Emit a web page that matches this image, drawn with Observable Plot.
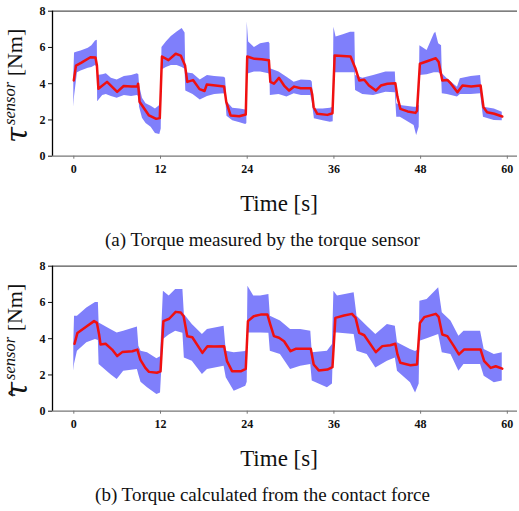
<!DOCTYPE html>
<html><head><meta charset="utf-8">
<script src="https://cdn.jsdelivr.net/npm/d3@7"></script>
<script src="https://cdn.jsdelivr.net/npm/@observablehq/plot@0.6"></script>
<style>
body{margin:0;background:#fff;}
#root{width:519px;}
.cap{font-family:"Liberation Serif","Times New Roman",serif;font-size:19px;text-align:center;height:35px;line-height:40px;color:#111;padding-left:6px;}
</style></head><body><div id="root"></div><script>
const xTicks=[0,12,24,36,48,60];
const yTicks=[0,2,4,6,8];
const captions=["(a) Torque measured by the torque sensor","(b) Torque calculated from the contact force"];
const xLabel="Time [s]";
// panel (a): mean line [t, value]
const aLine=[[0,4.18],[0.3,5.0],[1,5.15],[2.3,5.46],[3.0,5.45],[3.2,5.0],[3.4,3.72],[4.6,4.1],[6.0,3.55],[6.9,3.87],[8.0,3.85],[8.8,3.85],[8.9,4.0],[9.1,3.0],[10.4,2.25],[11.4,2.06],[11.9,2.1],[12.2,5.5],[13.1,5.3],[14.1,5.65],[14.8,5.55],[15.4,5.0],[15.7,4.1],[16.5,4.2],[17.4,3.7],[18.1,3.6],[18.4,3.95],[20.8,3.85],[21.1,3.0],[21.7,2.25],[22.9,2.2],[23.8,2.3],[24.0,5.5],[25,5.37],[26,5.35],[27,5.3],[27.2,4.1],[27.7,4.0],[28.4,4.32],[29.1,3.9],[29.8,3.62],[30.5,3.84],[31.4,3.75],[32.8,3.75],[33.0,3.4],[33.2,2.7],[33.7,2.34],[35.1,2.28],[35.8,2.37],[36.1,5.56],[38.3,5.5],[39.0,4.82],[39.5,4.18],[40.2,4.22],[40.85,3.9],[41.8,3.62],[42.5,3.9],[43.4,4.0],[44.5,4.03],[44.8,3.26],[45.2,2.61],[46.2,2.47],[47.3,2.39],[47.5,2.5],[47.9,5.1],[48.9,5.24],[50.1,5.41],[50.5,5.2],[51.0,4.18],[51.7,4.21],[52.2,4.0],[53.1,3.53],[53.8,3.9],[55.0,3.84],[56.3,3.9],[56.7,2.7],[57.2,2.43],[58.2,2.34],[59.3,2.19]];
// panel (a): spread band [t, low, high]
const aBand=[[0.0,2.7,4.4],[0.1,3.3,5.7],[0.5,4.6,5.75],[1.0,4.7,5.8],[2.0,4.85,5.95],[2.5,4.9,6.1],[3.0,5.0,6.35],[3.25,4.9,6.4],[3.3,3.0,4.45],[4.0,3.35,4.5],[4.5,3.4,4.55],[5.2,3.3,4.3],[6.0,3.2,4.2],[7.0,3.35,4.4],[8.0,3.3,4.45],[8.8,3.35,4.55],[9.0,3.3,4.5],[9.1,2.7,3.9],[9.5,2.1,3.2],[10.0,1.8,2.9],[10.7,1.6,2.75],[11.3,1.25,2.6],[11.9,1.2,2.8],[12.1,1.5,3.0],[12.2,4.75,6.0],[12.8,4.9,6.3],[13.5,5.0,6.6],[14.3,5.0,6.85],[15.0,4.9,7.05],[15.4,4.8,6.8],[15.5,3.6,4.6],[16.5,3.4,4.55],[17.5,3.1,4.2],[18.5,3.3,4.45],[19.5,3.4,4.4],[20.8,3.45,4.35],[21.0,3.3,4.3],[21.2,2.2,3.0],[22.0,1.95,2.65],[23.0,1.85,2.6],[23.8,1.75,2.55],[23.95,1.8,2.6],[24.0,4.5,7.4],[24.2,4.55,6.3],[25.0,4.64,6.0],[25.85,4.64,6.2],[27.0,4.55,6.29],[27.15,4.5,6.2],[27.2,3.35,4.82],[28.4,3.4,4.64],[29.5,3.26,4.36],[30.5,3.44,4.08],[31.5,3.35,4.2],[32.8,3.35,4.18],[33.0,3.0,4.1],[33.3,2.06,2.61],[34.5,1.95,2.6],[35.5,1.88,2.65],[35.9,1.9,2.7],[36.0,4.6,7.12],[36.3,4.6,6.57],[37.3,4.6,6.7],[38.3,4.6,6.84],[38.9,4.6,6.84],[39.0,3.62,4.45],[40.0,3.4,4.3],[41.5,3.35,4.45],[43.2,3.53,4.64],[44.5,3.5,4.64],[44.7,2.15,2.89],[45.2,2.15,2.8],[47.1,1.7,2.7],[47.45,1.14,2.7],[47.8,1.6,2.8],[47.9,4.45,6.1],[48.9,4.5,5.83],[49.9,4.6,6.75],[50.1,4.6,6.84],[50.5,4.6,6.2],[50.9,4.5,6.1],[51.0,3.44,4.55],[51.7,3.4,4.27],[53.1,3.26,3.81],[53.5,3.4,4.27],[55.0,3.4,4.4],[56.3,3.44,4.45],[56.7,2.15,2.7],[58.2,1.97,2.61],[59.3,1.95,2.43]];
// panel (b): mean line [t, value]
const bLine=[[0.1,3.72],[0.5,4.32],[1.8,4.69],[2.8,4.97],[3.2,4.87],[3.5,4.23],[3.7,3.68],[4.4,3.72],[5.3,3.4],[6.0,3.04],[6.7,3.26],[8.1,3.31],[8.8,3.4],[9.2,2.85],[9.9,2.39],[10.4,2.17],[11.5,2.12],[12.0,2.2],[12.4,4.97],[13.2,5.1],[14.1,5.48],[14.8,5.45],[15.2,5.24],[15.7,4.14],[16.4,4.08],[17.8,3.22],[18.5,3.59],[19.4,3.57],[20.8,3.59],[21.2,2.76],[21.9,2.21],[23.1,2.2],[23.8,2.34],[24.1,4.97],[24.9,5.24],[25.85,5.33],[26.8,5.33],[27.2,4.78],[27.7,4.14],[28.4,4.05],[29.1,3.86],[30.0,3.31],[30.7,3.44],[32.8,3.44],[33.2,2.58],[33.9,2.25],[35.1,2.3],[35.8,2.43],[36.2,5.15],[37.4,5.28],[38.5,5.37],[39.0,5.15],[39.5,4.32],[40.2,4.19],[41.8,3.26],[42.7,3.59],[43.8,3.64],[44.5,3.72],[44.8,3.13],[45.2,2.67],[46.6,2.54],[47.5,2.58],[47.9,4.87],[48.5,5.19],[50.1,5.37],[50.5,5.2],[51.0,4.23],[51.7,4.14],[52.6,3.59],[53.3,3.13],[54.0,3.4],[56.3,3.4],[56.8,2.76],[57.7,2.39],[58.4,2.48],[59.3,2.35]];
// panel (b): spread band [t, low, high]
const bBand=[[0.0,2.2,3.8],[0.1,2.6,5.24],[0.5,3.31,5.24],[1.8,3.77,5.7],[3.0,3.96,6.0],[3.4,3.9,6.0],[3.5,2.58,4.87],[5.1,2.02,4.51],[6.0,1.75,4.32],[6.9,2.21,4.41],[8.8,2.3,4.64],[9.0,2.0,3.59],[9.3,1.6,3.31],[10.2,1.29,3.22],[11.5,0.92,2.9],[12.0,1.0,3.0],[12.4,3.96,6.62],[13.2,4.2,6.35],[14.1,4.41,6.71],[15.1,4.3,6.71],[15.3,2.94,5.33],[16.4,2.76,4.78],[17.8,2.02,4.23],[18.5,2.3,4.51],[20.8,2.48,4.69],[21.1,1.84,3.31],[22.2,1.1,3.22],[23.8,1.38,3.3],[24.0,1.6,3.4],[24.1,4.32,6.9],[24.9,4.32,6.35],[25.85,4.32,6.35],[27.0,4.3,6.44],[27.2,3.31,5.24],[28.6,3.13,4.97],[30.0,2.3,4.51],[31.4,2.48,4.51],[32.8,2.58,4.41],[33.0,1.66,3.22],[35.1,1.29,3.31],[35.8,1.5,3.68],[36.0,4.32,6.62],[36.5,4.32,6.35],[38.8,4.23,6.53],[39.2,3.31,5.24],[40.6,3.13,4.69],[41.8,2.39,4.23],[43.4,2.76,4.78],[44.5,2.94,4.69],[44.8,2.21,3.77],[46.6,1.57,3.4],[47.3,1.01,3.3],[47.8,1.5,3.4],[47.9,3.86,6.07],[48.9,4.0,6.16],[50.5,4.23,6.81],[51.0,3.22,5.43],[52.2,3.13,4.97],[53.3,2.21,4.14],[54.0,2.58,4.41],[56.3,2.58,4.41],[56.8,1.93,3.4],[58.2,1.57,3.13],[59.3,1.66,3.22]];

const xDomain=[-2.95,61.41];
const serif="Liberation Serif";
function panel(line,band,hat,caption){
  const svg=Plot.plot({
    width:519,height:220,marginLeft:52,marginRight:2,marginTop:10.7,marginBottom:64.3,
    x:{domain:xDomain},y:{domain:[0,8]},
    style:{fontFamily:serif,fontSize:"12px",fontWeight:"bold",background:"white",color:"#111"},
    marks:[
      Plot.areaY(band,{x:d=>d[0],y1:d=>d[1],y2:d=>d[2],fill:"#7f7ffb",fillOpacity:1}),
      Plot.lineY(line,{x:d=>d[0],y:d=>d[1],stroke:"#f01010",strokeWidth:2.5}),
      Plot.ruleY([8],{stroke:"#555",strokeWidth:1.3}),
      Plot.ruleY([0],{stroke:"#777",strokeWidth:1.3}),
      Plot.ruleX([xDomain[0]],{stroke:"#000",strokeWidth:1.3}),
      Plot.axisX({ticks:xTicks,tickSize:3,tickPadding:5,label:null,stroke:"#777",fontFamily:serif,fontWeight:"bold",fontSize:12}),
      Plot.axisY({ticks:yTicks,tickSize:4,tickPadding:3,label:null,fontFamily:serif,fontWeight:"bold",fontSize:12})
    ]
  });
  const s=d3.select(svg);
  s.append("text").attr("x",279).attr("y",211).attr("text-anchor","middle")
    .style("font-family",serif).style("font-size","23px").style("font-weight","normal").attr("fill","#111").text(xLabel);
  // rotated y label: baseline of "[Nm]" at screen x=22, text starts at screen y=143
  const g=s.append("g").attr("transform","translate(22,143) rotate(-90)");
  const t=g.append("text").attr("text-anchor","start").style("font-weight","normal").attr("fill","#111");
  t.append("tspan").style("font-family","DejaVu Serif").style("font-size","29px").style("font-style","italic").attr("dy","5").text("\u03C4");
  t.append("tspan").style("font-family",serif).style("font-size","16.5px").style("font-style","italic").attr("dx","2").attr("dy","-12").text("sensor");
  t.append("tspan").style("font-family",serif).style("font-size","22px").attr("dy","7").text(" [Nm]");
  if(hat){
    g.append("text").attr("x",5).attr("y",6).style("font-family","DejaVu Serif").style("font-size","24px").style("font-weight","normal").attr("fill","#111").text("\u02C6");
  }
  const root=document.getElementById("root");
  root.appendChild(svg);
  const c=document.createElement("div");c.className="cap";c.textContent=caption;root.appendChild(c);
}
panel(aLine,aBand,false,captions[0]);
panel(bLine,bBand,true,captions[1]);
</script></body></html>
